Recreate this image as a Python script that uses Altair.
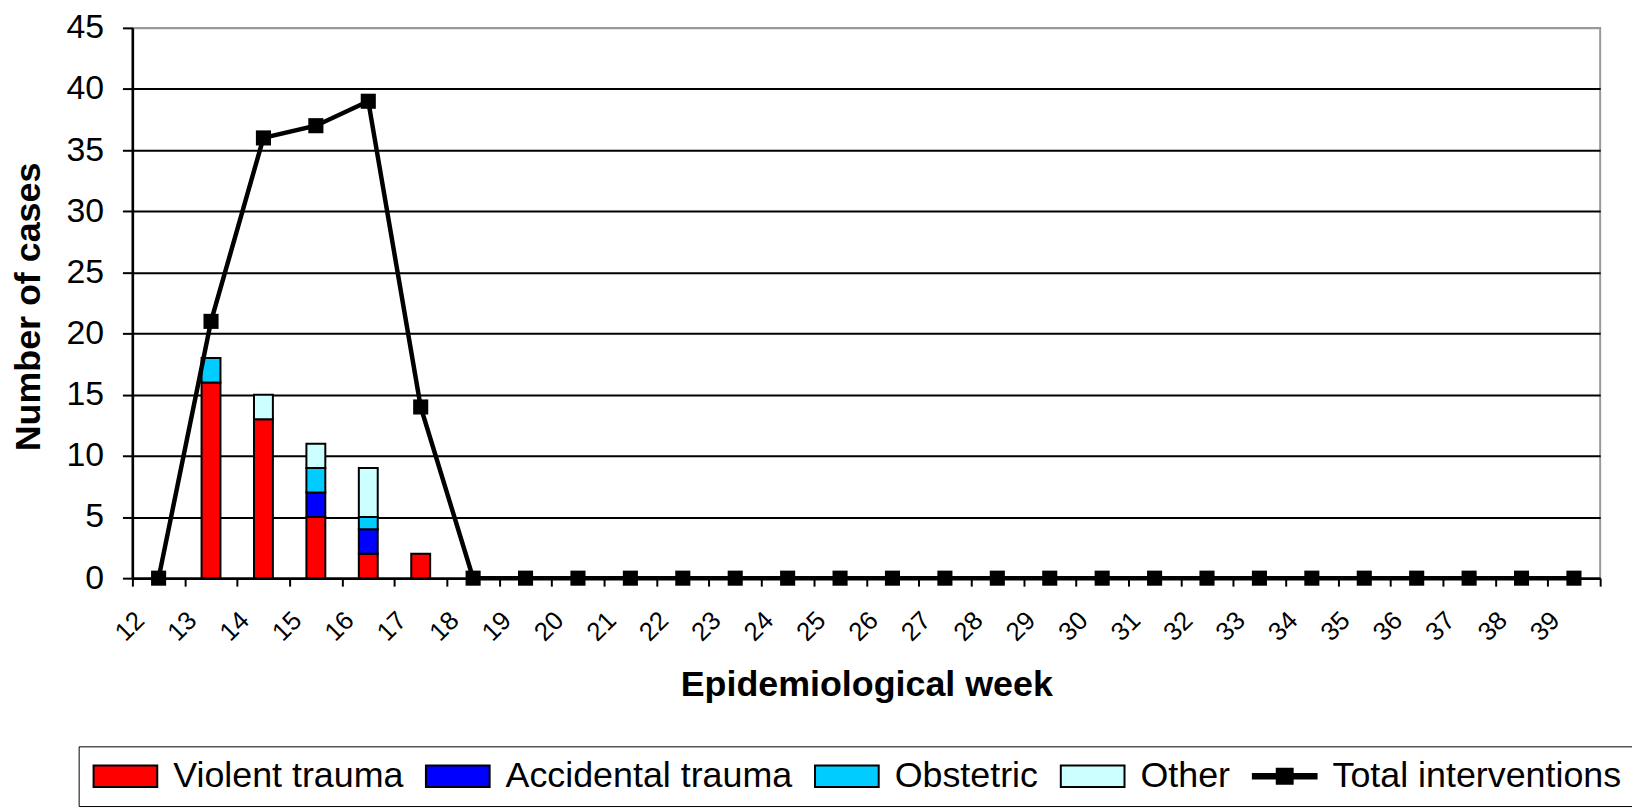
import altair as alt
import pandas as pd

weeks = list(range(12, 40))
violent = [0, 16, 13, 5, 2, 2, 0, 0, 0, 0, 0, 0, 0, 0, 0, 0, 0, 0, 0, 0, 0, 0, 0, 0, 0, 0, 0, 0]
accidental = [0, 0, 0, 2, 2, 0, 0, 0, 0, 0, 0, 0, 0, 0, 0, 0, 0, 0, 0, 0, 0, 0, 0, 0, 0, 0, 0, 0]
obstetric = [0, 2, 0, 2, 1, 0, 0, 0, 0, 0, 0, 0, 0, 0, 0, 0, 0, 0, 0, 0, 0, 0, 0, 0, 0, 0, 0, 0]
other = [0, 0, 2, 2, 4, 0, 0, 0, 0, 0, 0, 0, 0, 0, 0, 0, 0, 0, 0, 0, 0, 0, 0, 0, 0, 0, 0, 0]
total = [0, 21, 36, 37, 39, 14, 0, 0, 0, 0, 0, 0, 0, 0, 0, 0, 0, 0, 0, 0, 0, 0, 0, 0, 0, 0, 0, 0]

series_names = ["Violent trauma", "Accidental trauma", "Obstetric", "Other", "Total interventions"]
series_colors = ["#FF0000", "#0000FF", "#00CCFF", "#CCFFFF", "#000000"]
y_ticks = [0, 5, 10, 15, 20, 25, 30, 35, 40, 45]

FONT = "Liberation Sans"

rows = []
for idx, (name, vals) in enumerate(zip(series_names[:4], [violent, accidental, obstetric, other])):
    for w, v in zip(weeks, vals):
        if v > 0:
            rows.append({"week": w, "series": name, "value": v, "idx": idx})
bars_df = pd.DataFrame(rows)
total_df = pd.DataFrame({"week": weeks, "total": total})

x_enc = alt.X(
    "week:O",
    sort=weeks,
    scale=alt.Scale(domain=weeks, paddingInner=0, paddingOuter=0),
    axis=alt.Axis(
        title="Epidemiological week",
        titleFont=FONT, titleFontSize=36, titleFontWeight="bold", titleColor="black",
        titleY=118, titleBaseline="alphabetic",
        labelFont=FONT, labelFontSize=26, labelColor="black",
        labelAngle=-45, labelAlign="right", labelBaseline="middle",
        labelOffset=-19, labelPadding=30, labelOverlap=False,
        tickBand="extent", tickSize=8, tickColor="black", tickWidth=2,
        domainColor="black", domainWidth=2.5, grid=False,
    ),
)

y_axis = alt.Axis(
    title="Number of cases",
    titleFont=FONT, titleFontSize=36, titleFontWeight="bold", titleColor="black",
    titleX=-93, titleY=280, titleAngle=-90, titleBaseline="alphabetic", titleAlign="center",
    values=y_ticks,
    labelFont=FONT, labelFontSize=34, labelColor="black", labelPadding=19,
    tickSize=10, tickColor="black", tickWidth=2,
    domainColor="black", domainWidth=2.5,
    grid=True, gridWidth=2,
    gridColor={"condition": {"test": "datum.value === 45", "value": "#999999"}, "value": "black"},
)

RECT_PATH = "M-1,-0.72H3.267V0.72H-1Z"
LINE_PATH = "M-1,-0.15H3.267V0.15H-1Z M0.6,-0.5H1.666V0.5H0.6Z"
shape_expr = "datum.value === 'Total interventions' ? '%s' : '%s'" % (LINE_PATH, RECT_PATH)

legend = alt.Legend(
    title=None,
    orient="none", legendX=-54, legendY=722,
    direction="horizontal", columns=5,
    labelFont=FONT, labelFontSize=36, labelColor="black", labelLimit=600,
    labelOffset=47, columnPadding=18,
    symbolSize=900, symbolType={"expr": shape_expr},
    symbolStrokeColor="black", symbolStrokeWidth=2, symbolOpacity=1,
    padding=12, strokeColor="black",
)

bars = alt.Chart(bars_df).mark_bar(size=19, stroke="black", strokeWidth=2).encode(
    x=x_enc,
    y=alt.Y("sum(value):Q", stack="zero", scale=alt.Scale(domain=[0, 45], nice=False), axis=y_axis),
    color=alt.Color("series:N", scale=alt.Scale(domain=series_names, range=series_colors), legend=legend),
    order=alt.Order("idx:Q", sort="ascending"),
)

line = alt.Chart(total_df).mark_line(color="black", strokeWidth=4.5).encode(
    x=alt.X("week:O", sort=weeks),
    y=alt.Y("total:Q"),
)
points = alt.Chart(total_df).mark_point(shape="square", filled=True, color="black", size=230, opacity=1).encode(
    x=alt.X("week:O", sort=weeks),
    y=alt.Y("total:Q"),
)

chart = alt.layer(bars, line, points).properties(
    width=1475, height=553,
    autosize=alt.AutoSizeParams(type="none"),
    padding={"left": 125, "top": 18, "right": 32, "bottom": 230},
    background="white",
).configure_view(stroke="#999999", strokeWidth=2)

chart.save("out.html", embed_options={"renderer": "svg", "actions": False})
